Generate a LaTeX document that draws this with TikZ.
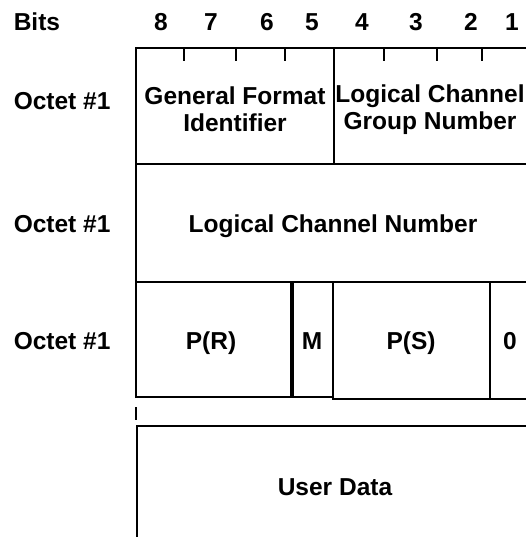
\documentclass[tikz,border=0pt]{standalone}
\usepackage{fontspec}
\setmainfont{Liberation Sans}
\tikzset{lbl/.style={font=\fontsize{24.5}{27}\selectfont\bfseries, inner sep=0pt, align=center}}

\begin{document}
\begin{tikzpicture}[x=1pt, y=-1pt, line width=1.5pt]
\useasboundingbox (0,0) rectangle (526,537);
\node[lbl, anchor=base west] (bits) at (13,31) {Bits};
\foreach \b/\x in {8/161,7/211,6/267,5/312,4/362,3/416,2/471,1/512}
  \node[lbl, anchor=base] (bit\b) at (\x,31) {\b};
\draw (136,398)--(136,48)--(530,48);
\foreach \x in {184,236,285,384,437,482}
  \draw (\x,48)--(\x,61);
\draw (136,164)--(530,164);
\draw (334,48)--(334,164);
\draw (136,282)--(530,282);
\draw (136,397)--(333,397);
\draw[line width=3.5pt] (292,282)--(292,397);
\draw (333,282)--(333,399)--(530,399);
\draw (490,282)--(490,399);
\draw (136,407)--(136,420);
\draw (137,540)--(137,426)--(530,426);
\node[lbl, anchor=base west] (oct1) at (13,109.5) {Octet \#1};
\node[lbl, anchor=base west] (oct2) at (13,232.5) {Octet \#1};
\node[lbl, anchor=base west] (oct3) at (13,349.5) {Octet \#1};
\node[lbl] (gfi) at (235,109) {General Format\\Identifier};
\node[lbl] (lcgn) at (430,110) {Logical Channel\\Group Number};
\node[lbl, anchor=base] (lcn) at (333,232.5) {Logical Channel Number};
\node[lbl, anchor=base] (pr) at (211,349.5) {P(R)};
\node[lbl, anchor=base] (m) at (312,349.5) {M};
\node[lbl, anchor=base] (ps) at (411,349.5) {P(S)};
\node[lbl, anchor=base] (zero) at (510,349.5) {0};
\node[lbl, anchor=base] (data) at (335,495) {User Data};
\end{tikzpicture}
\end{document}
